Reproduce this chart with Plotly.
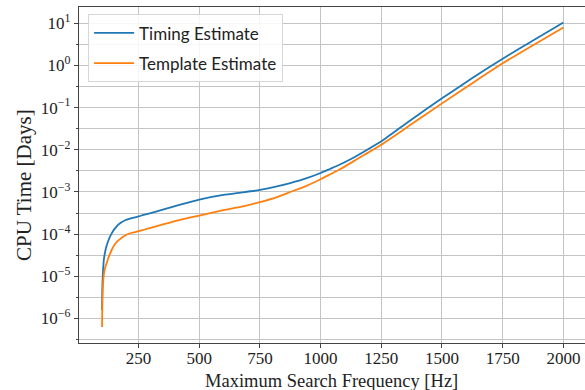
import plotly.graph_objects as go

# Maximum search frequency (Hz), shared by both estimates
freq = [100, 100.5, 101, 102, 103, 104.5, 106, 108, 110, 113,
        116, 120, 126, 133, 140, 147, 157, 168, 180, 195,
        215, 235, 250, 275, 300, 350, 422, 500, 600, 680,
        750, 820, 875, 940, 1000, 1040, 1080, 1125, 1180, 1250,
        1375, 1500, 1625, 1750, 1875, 2000]

# CPU time (days)
cpu_timing = [1.585e-6, 3.16e-6, 5.01e-6, 7.59e-6, 1.05e-5, 1.51e-5, 2.04e-5, 2.63e-5, 3.16e-5, 3.89e-5,
              4.68e-5, 5.62e-5, 7.08e-5, 8.91e-5, 1.05e-4, 1.23e-4, 1.45e-4, 1.70e-4, 1.91e-4, 2.14e-4,
              2.34e-4, 2.51e-4, 2.63e-4, 2.92e-4, 3.16e-4, 3.80e-4, 5.01e-4, 6.61e-4, 8.51e-4, 9.77e-4,
              1.12e-3, 1.35e-3, 1.62e-3, 2.09e-3, 2.82e-3, 3.55e-3, 4.47e-3, 6.03e-3, 9.12e-3, 1.585e-2,
              5.25e-2, 0.166, 0.501, 1.445, 3.89, 10.47]

cpu_template = [6.31e-7, 1.26e-6, 2.0e-6, 3.55e-6, 5.01e-6, 7.08e-6, 9.33e-6, 1.17e-5, 1.38e-5, 1.62e-5,
                1.86e-5, 2.14e-5, 2.75e-5, 3.47e-5, 4.27e-5, 5.13e-5, 6.17e-5, 7.24e-5, 8.13e-5, 9.33e-5,
                1.05e-4, 1.12e-4, 1.175e-4, 1.29e-4, 1.41e-4, 1.70e-4, 2.19e-4, 2.75e-4, 3.72e-4, 4.57e-4,
                5.75e-4, 7.59e-4, 1.0e-3, 1.38e-3, 2.0e-3, 2.63e-3, 3.47e-3, 4.90e-3, 7.59e-3, 1.32e-2,
                4.07e-2, 0.126, 0.380, 1.122, 3.02, 7.94]

x_ticks = [250, 500, 750, 1000, 1250, 1500, 1750, 2000]
y_exps = [-6, -5, -4, -3, -2, -1, 0, 1]
minor_exps = [-6.5, -5.5, -4.5, -3.5, -2.5, -1.5, -0.5, 0.5]

x_title = "Maximum Search Frequency [Hz]"
y_title = "CPU Time [Days]"

serif = "Liberation Serif"
sans = "Lato"
grid = "#c4c4c4"
axis_col = "#444"
txt = "#222"

W, H = 585, 390
ML, MR, MT, MB = 79, 0, 7, 47
PW, PH = W - ML - MR, H - MT - MB

fig = go.Figure()
fig.add_trace(go.Scatter(x=freq, y=cpu_timing, mode="lines", name="Timing Estimate",
                         legendgroup="a",
                         line=dict(color="#1f77b4", width=1.8, shape="spline", smoothing=0.5)))
fig.add_trace(go.Scatter(x=freq, y=cpu_template, mode="lines", name="Template Estimate",
                         legendgroup="b",
                         line=dict(color="#ff7f0e", width=1.8, shape="spline", smoothing=0.5)))

yt_vals = [10.0 ** e for e in y_exps]
yt_text = ["10<sup>%s</sup>" % (str(e).replace("-", "\u2212")) for e in y_exps]
minor_vals = [10.0 ** e for e in minor_exps]

# axis titles placed as annotations (pixel positions converted to paper coords)
fig.add_annotation(text=x_title, xref="paper", yref="paper",
                   x=(331 - ML) / PW, y=-(381 - (MT + PH)) / PH,
                   xanchor="center", yanchor="middle", showarrow=False,
                   font=dict(family=serif, size=18.5, color=txt))
fig.add_annotation(text=y_title, xref="paper", yref="paper",
                   x=-(ML - 24) / PW, y=1 - (185 - MT) / PH, textangle=-90,
                   xanchor="center", yanchor="middle", showarrow=False,
                   font=dict(family=serif, size=21, color=txt))

fig.update_layout(
    width=W, height=H,
    margin=dict(l=ML, r=MR, t=MT, b=MB, autoexpand=False),
    paper_bgcolor="white", plot_bgcolor="white",
    showlegend=True,
    legend=dict(x=0.018, y=0.978, xanchor="left", yanchor="top",
                bgcolor="rgba(255,255,255,0.85)", bordercolor="#d6d6d6", borderwidth=1,
                font=dict(family=sans, size=17, color=txt),
                tracegroupgap=5, itemwidth=40),
    xaxis=dict(range=[5, 2089], tickvals=x_ticks, ticktext=[str(v) for v in x_ticks],
               showgrid=True, gridcolor=grid, gridwidth=1,
               showline=True, linecolor=axis_col, linewidth=1.2, mirror=True,
               ticks="outside", ticklen=4, tickcolor=axis_col, ticklabelstandoff=-5,
               tickfont=dict(family=serif, size=17, color=txt),
               zeroline=False, automargin=False),
    yaxis=dict(type="log", range=[-6.58, 1.385], tickvals=yt_vals, ticktext=yt_text,
               showgrid=True, gridcolor=grid, gridwidth=1,
               showline=True, linecolor=axis_col, linewidth=1.2,
               ticks="outside", ticklen=4, tickcolor=axis_col,
               tickfont=dict(family=serif, size=17, color=txt),
               minor=dict(tickvals=minor_vals, showgrid=True, gridcolor=grid,
                          gridwidth=1, ticks="outside", ticklen=2, tickcolor=axis_col),
               zeroline=False, automargin=False),
)

fig.write_html("out.html")
